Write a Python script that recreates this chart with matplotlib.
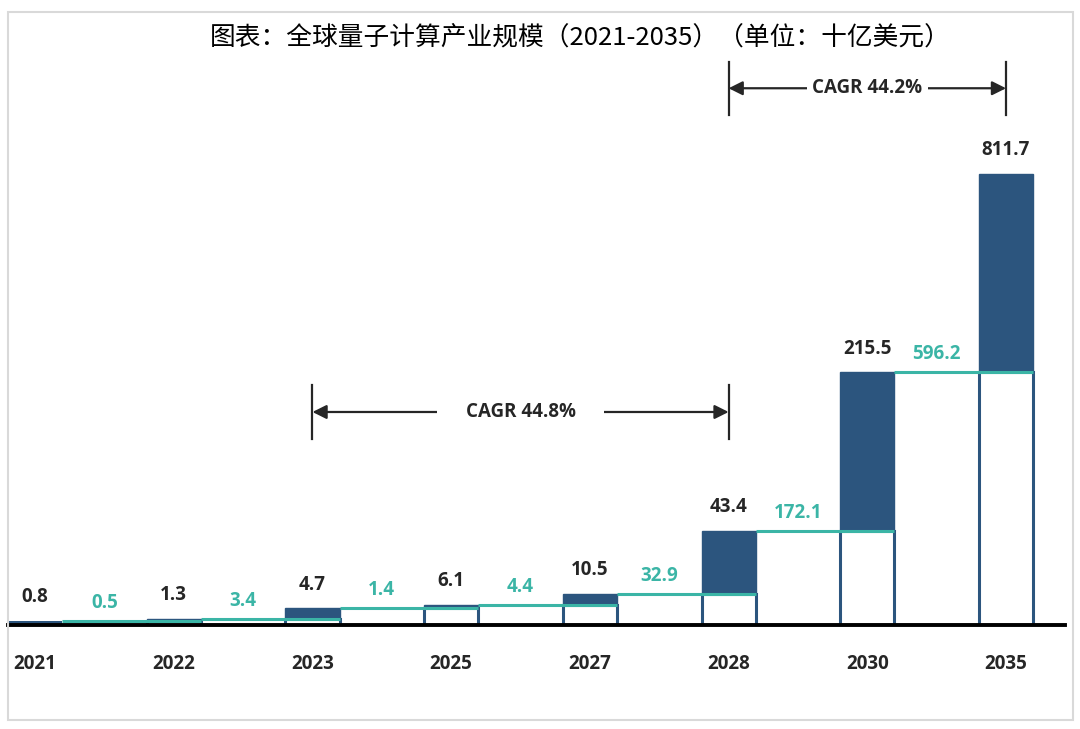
import numpy as np
import matplotlib
matplotlib.use('Agg')
from matplotlib import pyplot as plt
from matplotlib.patches import Rectangle

# Data (billion USD)
years = ['2021', '2022', '2023', '2025', '2027', '2028', '2030', '2035']
totals = [0.8, 1.3, 4.7, 6.1, 10.5, 43.4, 215.5, 811.7]
increments = [0.5, 3.4, 1.4, 4.4, 32.9, 172.1, 596.2]
cagr_labels = ['CAGR 44.8%', 'CAGR 44.2%']
cagr_spans = [('2023', '2028'), ('2028', '2035')]

DARK = '#2c557e'
TEAL = '#3bb5a6'
TEXT = '#262626'

plt.rcParams['font.family'] = ['Open Sans', 'DejaVu Sans']

fig = plt.figure(figsize=(10.8, 7.29), dpi=100)
ax = fig.add_axes([8 / 1080, 1 - 625 / 729, (1065 - 8) / 1080, (625 - 60) / 729])

# compressed value axis, like the original stylised chart
V0 = 60.0
A = 0.02
def fwd(v):
    v = np.maximum(v, 0)
    return np.log1p(v / V0) + A * np.sqrt(v)
def inv(y):
    # numeric inverse of fwd (monotonic)
    y = np.asarray(y, dtype=float)
    lo = np.zeros_like(y)
    hi = np.full_like(y, 1e5)
    for _ in range(60):
        mid = (lo + hi) / 2
        big = fwd(mid) > y
        hi = np.where(big, mid, hi)
        lo = np.where(big, lo, mid)
    return (lo + hi) / 2
ax.set_yscale('function', functions=(fwd, inv))

x = np.arange(len(years))
w = 0.39

# first bar: plain filled
ax.bar(x[0], totals[0], width=w, color=DARK, edgecolor=DARK, linewidth=0, zorder=2)
# following bars: white lower part (previous total) + dark increment on top
prev = np.array(totals[:-1])
ax.bar(x[1:], prev, width=w, color='white', edgecolor=DARK, linewidth=2.2, zorder=2)
ax.bar(x[1:], increments, bottom=prev, width=w, color=DARK, edgecolor=DARK,
       linewidth=1, zorder=2)

# teal connectors and increment labels
for i, inc in enumerate(increments):
    ax.plot([x[i] + w / 2, x[i + 1] + w / 2], [totals[i], totals[i]],
            color=TEAL, lw=2.2, zorder=3, solid_capstyle='butt')
    ax.annotate(f'{inc}', (x[i] + 0.5, totals[i]), xytext=(0, 13),
                textcoords='offset points', ha='center', va='center',
                color=TEAL, fontsize=13.5, fontweight='bold')

# total labels
for i, t in enumerate(totals):
    ax.annotate(f'{t}', (x[i], t), xytext=(0, 17), textcoords='offset points',
                ha='center', va='center', color=TEXT, fontsize=13.5,
                fontweight='bold')

# CAGR brackets
trans = ax.get_xaxis_transform()
bracket_y = [0.377, 0.950]
pads = [1.5, 0.3]
for label, (a, b), yy, pad in zip(cagr_labels, cagr_spans, bracket_y, pads):
    xa, xb = years.index(a), years.index(b)
    for xx in (xa, xb):
        ax.plot([xx, xx], [yy - 0.047, yy + 0.047], transform=trans,
                color=TEXT, lw=1.6, clip_on=False, zorder=4)
    ax.annotate('', xy=(xa, yy), xytext=(xb, yy), xycoords=trans, textcoords=trans,
                arrowprops=dict(arrowstyle='<|-|>,head_length=0.7,head_width=0.35',
                                color=TEXT, lw=1.6, shrinkA=0, shrinkB=0,
                                mutation_scale=12), zorder=4)
    ax.text((xa + xb) / 2, yy, label, transform=trans, ha='center', va='center',
            fontsize=13.5, fontweight='bold', color=TEXT, zorder=5,
            bbox=dict(boxstyle=f'square,pad={pad}', fc='white', ec='none'))

ax.set_xlim(-0.195, 7.425)
ax.set_ylim(0, inv(fwd(811.7) * 565 / 451))
ax.set_xticks(x)
ax.set_xticklabels(years, fontsize=13.5, fontweight='bold', color=TEXT)
ax.tick_params(axis='x', length=0, pad=21)
ax.set_yticks([])
ax.minorticks_off()
ax.tick_params(axis='y', which='both', length=0, labelleft=False)
for s in ['top', 'right', 'left']:
    ax.spines[s].set_visible(False)
ax.spines['bottom'].set_linewidth(2.8)
ax.spines['bottom'].set_color('black')
ax.spines['bottom'].set_zorder(6)

fig.text(0.537, 1 - 38 / 729, '图表：全球量子计算产业规模（2021-2035）（单位：十亿美元）',
         ha='center', va='center', fontsize=18.5,
         family=['Noto Sans CJK SC', 'DejaVu Sans'], color='black')

fig.patches.append(Rectangle((8 / 1080, 1 - 720 / 729), (1073 - 8) / 1080,
                             (720 - 12) / 729, transform=fig.transFigure,
                             fill=False, edgecolor='#d9d9d9', lw=1.5))

fig.savefig('out.png', dpi=100)
